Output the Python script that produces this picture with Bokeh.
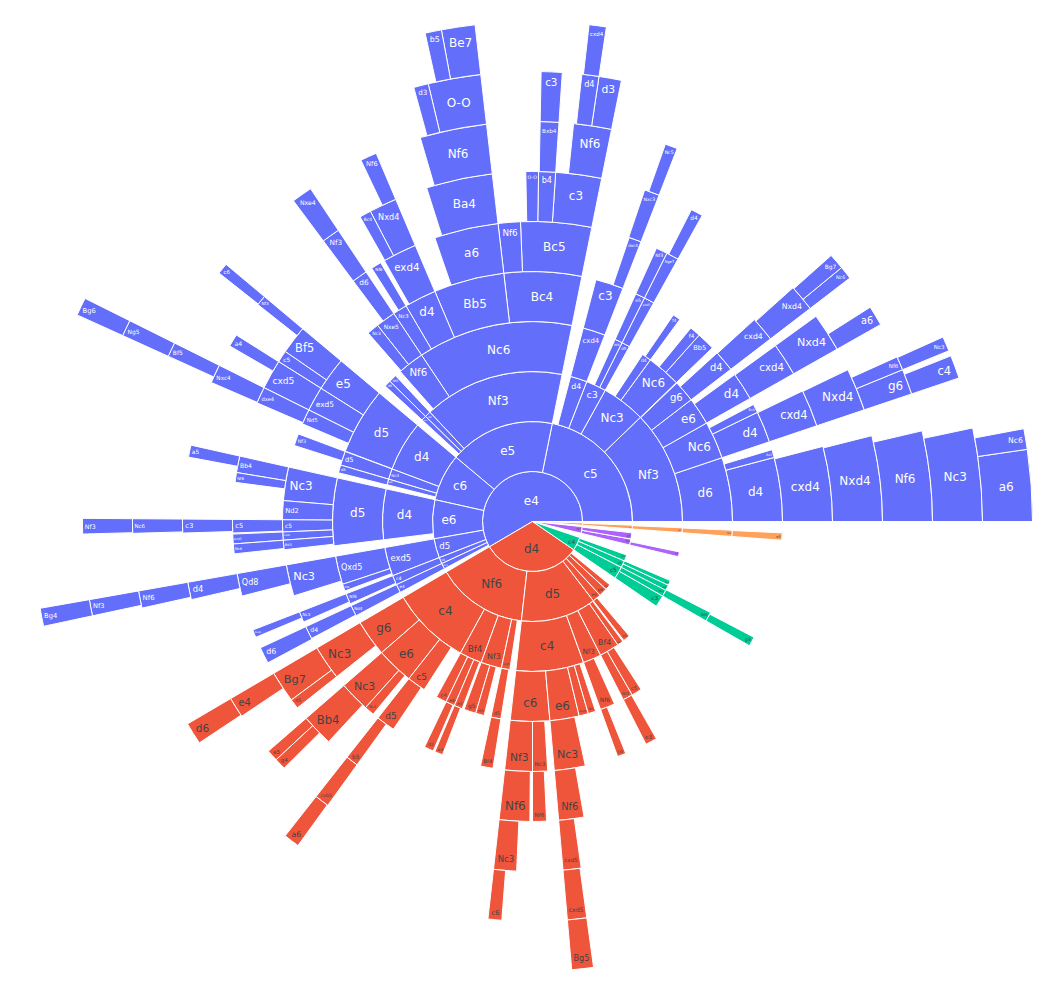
import math
from bokeh.plotting import figure
from bokeh.models import ColumnDataSource, Range1d
from bokeh.core.properties import value
from bokeh.embed import file_html
from bokeh.resources import INLINE

# First moves, their colours, and the empty share left after each one
root_names = ["e4", "d4", "c4", "Nf3", "g3"]
root_colors = ["#636EFA", "#EF553B", "#00CC96", "#AB63FA", "#FFA15A"]
root_text = ["#FFFFFF", "#444444", "#444444", "#444444", "#444444"]
root_spans = [210.4, 115.2, 15.6, 7.7, 2.7]
unassigned_after = [0, 0, 5.2, 1.6, 0]

# Each line: continuation labels, ply depth and share of games (pre-order)
e4_labels = [
    "c5", "Nf3", "d6", "d4", "cxd4", "Nxd4", "Nf6", "Nc3", "a6", "Nc6", "Be7",
    "Nc6", "d4", "cxd4", "Nxd4", "g6", "c4", "Nf6", "Nc3", "Bc4",
    "e6", "d4", "cxd4", "Nxd4", "a6",
    "g6", "d4", "cxd4", "Nxd4", "Nc6", "Bg7",
    "Nc3", "Nc6", "Bb5", "f4", "d4", "f4",
    "c3", "d5", "exd5", "Nge7", "d4", "Nf6", "e5", "Nf3",
    "d4", "cxd4", "c3", "dxc3", "Nxc3", "Nc5",
    "e5", "Nf3", "Nc6", "Bc4", "Bc5", "c3", "Nf6", "d3", "d4", "cxd4",
    "b4", "Bxb4", "c3", "O-O", "Nf6",
    "Bb5", "a6", "Ba4", "Nf6", "O-O", "Be7", "b5", "d3",
    "d4", "exd4", "Nxd4", "Nf6", "Bc4", "Nc3", "Nf6",
    "Nf6", "Nxe5", "d6", "Nf3", "Nxe4", "Nc3",
    "d6", "Nf6", "Nc6", "d6",
    "c6", "d4", "d5", "e5", "Bf5", "Nf3", "c6", "c5",
    "exd5", "cxd5", "a4", "Nd5", "dxe4", "Nxc4", "Bf5", "Ng5", "Bg6",
    "Nc3", "d5", "Nf3", "Nd2", "d3",
    "e6", "d4", "d5", "Nc3", "Bb4", "a5", "Nf6", "Nd2", "c5", "c5", "c3", "Nc6", "Nf3",
    "exd5", "exd5", "Bd3", "Nc6",
    "d5", "exd5", "Qxd5", "Nc3", "Qd8", "d4", "Nf6", "Nf3", "Bg4", "Nf6",
    "d3", "c4", "Nf6", "Nc3", "Nxd5",
    "Nc3", "e4", "Nd4", "d4", "d6",
]
e4_depths = [
    1, 2, 3, 4, 5, 6, 7, 8, 9, 9, 4,
    3, 4, 5, 6, 7, 8, 7, 8, 4,
    3, 4, 5, 6, 7,
    3, 4, 5, 6, 7, 7,
    2, 3, 4, 4, 3, 4,
    2, 3, 4, 5, 6, 3, 4, 5,
    2, 3, 4, 5, 6, 7,
    1, 2, 3, 4, 5, 6, 7, 8, 8, 9,
    6, 7, 8, 6, 5,
    4, 5, 6, 7, 8, 9, 9, 8,
    4, 5, 6, 7, 6, 4, 5,
    3, 4, 5, 6, 7, 4,
    2, 3, 2, 3,
    1, 2, 3, 4, 5, 6, 7, 5,
    4, 5, 6, 4, 5, 6, 7, 8, 9,
    2, 3, 4, 2, 3,
    1, 2, 3, 4, 5, 6, 5, 4, 4, 5, 6, 7, 8,
    4, 5, 4, 5,
    1, 2, 3, 4, 5, 6, 7, 8, 9, 3,
    1, 2, 3, 4, 5,
    1, 2, 3, 4, 5,
]
e4_spans = [
    78.6, 44.0, 18.6, 14.85, 14.5, 14.2, 13.1, 12.0, 8.3, 2.4, 1.85,
    10.9, 7.3, 7.2, 7.1, 3.7, 3.0, 2.0, 1.9, 2.0,
    8.0, 6.5, 6.4, 6.4, 2.9,
    6.3, 4.9, 4.8, 4.4, 1.9, 2.3,
    17.0, 9.9, 4.2, 2.5, 2.7, 1.8,
    7.8, 2.4, 2.4, 2.4, 2.0, 2.2, 2.2, 2.2,
    6.5, 6.5, 6.5, 2.4, 2.5, 1.8,
    61.4, 54.6, 45.1, 18.0, 13.7, 7.6, 5.5, 2.9, 2.2, 2.0,
    2.8, 2.7, 2.7, 2.1, 4.3,
    16.4, 12.4, 11.0, 9.7, 6.8, 3.9, 1.9, 1.9,
    7.4, 6.6, 4.6, 2.4, 1.9, 3.3, 2.0,
    7.7, 4.6, 3.0, 3.0, 3.0, 2.8,
    2.3, 2.3, 1.9, 1.9,
    27.4, 19.5, 19.4, 7.8, 5.5, 1.7, 1.6, 2.3,
    5.7, 5.7, 2.1, 3.5, 3.2, 3.1, 2.1, 2.1, 2.1,
    4.1, 4.1, 2.8, 2.2, 2.3,
    22.6, 19.6, 19.6, 7.8, 3.2, 2.0, 1.9, 4.4, 2.8, 2.6, 2.3, 2.1, 2.0,
    1.9, 1.9, 2.2, 1.9,
    11.2, 11.2, 8.3, 7.3, 4.4, 2.9, 2.5, 2.1, 2.1, 2.0,
    3.7, 3.7, 3.1, 2.5, 1.5,
    3.3, 3.3, 3.2, 3.0, 3.2,
]

d4_labels = [
    "Nf6", "c4", "g6", "Nc3", "Bg7", "e4", "d6", "d5",
    "e6", "Nc3", "Bb4", "a5", "g4", "Nc3",
    "c5", "d5", "b5", "cxb5", "a6",
    "Bf4", "c4", "e6", "d2", "e3", "a3",
    "Nf3", "g5", "e4", "exd5", "d5", "Bf4",
    "d5", "c4", "c6", "Nf3", "Nf6", "Nc3", "c6", "Nc3", "Nf6",
    "e6", "Nc3", "Nf6", "cxd5", "cxd5", "Bg5", "exd5", "Nf3",
    "Nf3", "Nf6", "c4", "Bf4", "Nf3", "e3", "c5", "e3",
    "e6", "c5", "g6", "c5",
]
d4_depths = [
    1, 2, 3, 4, 5, 6, 7, 5,
    3, 4, 5, 6, 6, 4,
    3, 4, 5, 6, 7,
    2, 3, 3, 4, 3, 4,
    2, 3, 3, 2, 3, 4,
    1, 2, 3, 4, 5, 6, 7, 4, 5,
    3, 4, 5, 6, 7, 8, 3, 3,
    2, 3, 4, 2, 3, 4, 3, 2,
    1, 2, 1, 1,
]
d4_spans = [
    53.2, 30.9, 10.6, 8.0, 6.1, 3.4, 3.2, 1.9,
    10.8, 7.1, 6.2, 1.9, 1.9, 2.3,
    5.4, 4.4, 2.4, 2.4, 2.3,
    8.7, 3.1, 2.6, 2.2, 2.4, 1.9,
    8.0, 3.5, 2.5, 3.3, 2.9, 2.9,
    43.9, 26.3, 11.4, 6.4, 5.9, 3.8, 2.0, 3.5, 2.7,
    8.5, 7.2, 4.9, 3.0, 2.8, 2.8, 2.7, 2.2,
    7.1, 4.3, 2.0, 7.7, 2.9, 2.7, 3.0, 2.3,
    5.0, 2.7, 4.9, 3.3,
]

c4_labels = ["c5", "c3", "Nc3", "Nf6", "g3", "e5", "e4", "Nc3", "Nf3"]
c4_depths = [1, 2, 2, 3, 4, 1, 2, 2, 1]
c4_spans = [7.1, 4.6, 2.7, 2.7, 2.2, 4.1, 2.2, 1.9, 3.6]

nf3_labels = ["Nf6", "g3", "d5"]
nf3_depths = [1, 2, 1]
nf3_spans = [3.5, 1.9, 3.6]

g3_labels = ["e5", "d4", "Nf3", "e3"]
g3_depths = [1, 2, 3, 4]
g3_spans = [2.2, 1.9, 1.8, 1.7]

branches = [
    (e4_labels, e4_depths, e4_spans),
    (d4_labels, d4_depths, d4_spans),
    (c4_labels, c4_depths, c4_spans),
    (nf3_labels, nf3_depths, nf3_spans),
    (g3_labels, g3_depths, g3_spans),
]

RING = 50.0
FONT = 12.0
GLYPH = {"N": .748, "f": .352, "c": .55, "d": .635, "e": .615, "g": .635, "a": .613,
         "b": .635, "x": .592, "B": .686, "O": .787, "Q": .787, "-": .361}


def text_width(s):
    return sum(GLYPH.get(ch, .636) for ch in s) * FONT


rows = dict(lab=[], a0=[], a1=[], r0=[], r1=[], fill=[], tx=[], ty=[], fs=[], tc=[])


def add(label, depth, start, span, fill, tc):
    r0, r1 = depth * RING, (depth + 1) * RING
    half = math.radians(span) / 2
    ring = 1 - r0 / r1
    frac = min(1 / (1 + 1 / math.sin(half)), ring / 2)
    rho = r1 * frac
    rc = r1 - rho
    w, h = text_width(label), 1.3 * FONT
    scale = min(1.0, 0.88 * 2 * rho / math.hypot(w, h))
    mid_deg = start + span / 2
    if span > 180:
        # a slice wider than a half circle keeps its label near the vertical
        mid_deg = 90 + (mid_deg - 90) * 0.2
        rc = 0.43 * r1
    mid = math.radians(mid_deg)
    rows["lab"].append(label)
    rows["a0"].append(math.radians(start))
    rows["a1"].append(math.radians(start + span))
    rows["r0"].append(r0)
    rows["r1"].append(r1)
    rows["fill"].append(fill)
    rows["tx"].append(rc * math.cos(mid))
    rows["ty"].append(rc * math.sin(mid))
    rows["fs"].append(f"{FONT * scale:.2f}px")
    rows["tc"].append(tc)


cursor0 = 0.0
for i, name in enumerate(root_names):
    add(name, 0, cursor0, root_spans[i], root_colors[i], root_text[i])
    labs, deps, sps = branches[i]
    cursor = {1: cursor0}
    for lab, dep, sp in zip(labs, deps, sps):
        st = cursor[dep]
        add(lab, dep, st, sp, root_colors[i], root_text[i])
        cursor[dep] = st + sp
        cursor[dep + 1] = st
    cursor0 += root_spans[i] + unassigned_after[i]

source = ColumnDataSource(rows)

W, H = 1041, 987
CX, CY = 532, 521
p = figure(width=W, height=H, x_range=Range1d(-CX, W - CX), y_range=Range1d(CY - H, CY),
           output_backend="svg", toolbar_location=None, min_border=0,
           outline_line_color=None, background_fill_color="white", border_fill_color="white")
p.axis.visible = False
p.grid.visible = False

p.annular_wedge(x=0, y=0, inner_radius="r0", outer_radius="r1", start_angle="a0", end_angle="a1",
                direction="anticlock", fill_color="fill", line_color="white", line_width=1,
                source=source)
p.text(x="tx", y="ty", text="lab", text_color="tc", text_font=value("DejaVu Sans"),
       text_font_size="fs", text_align="center", text_baseline="middle", source=source)

open("out.html", "w").write(file_html(p, INLINE))
